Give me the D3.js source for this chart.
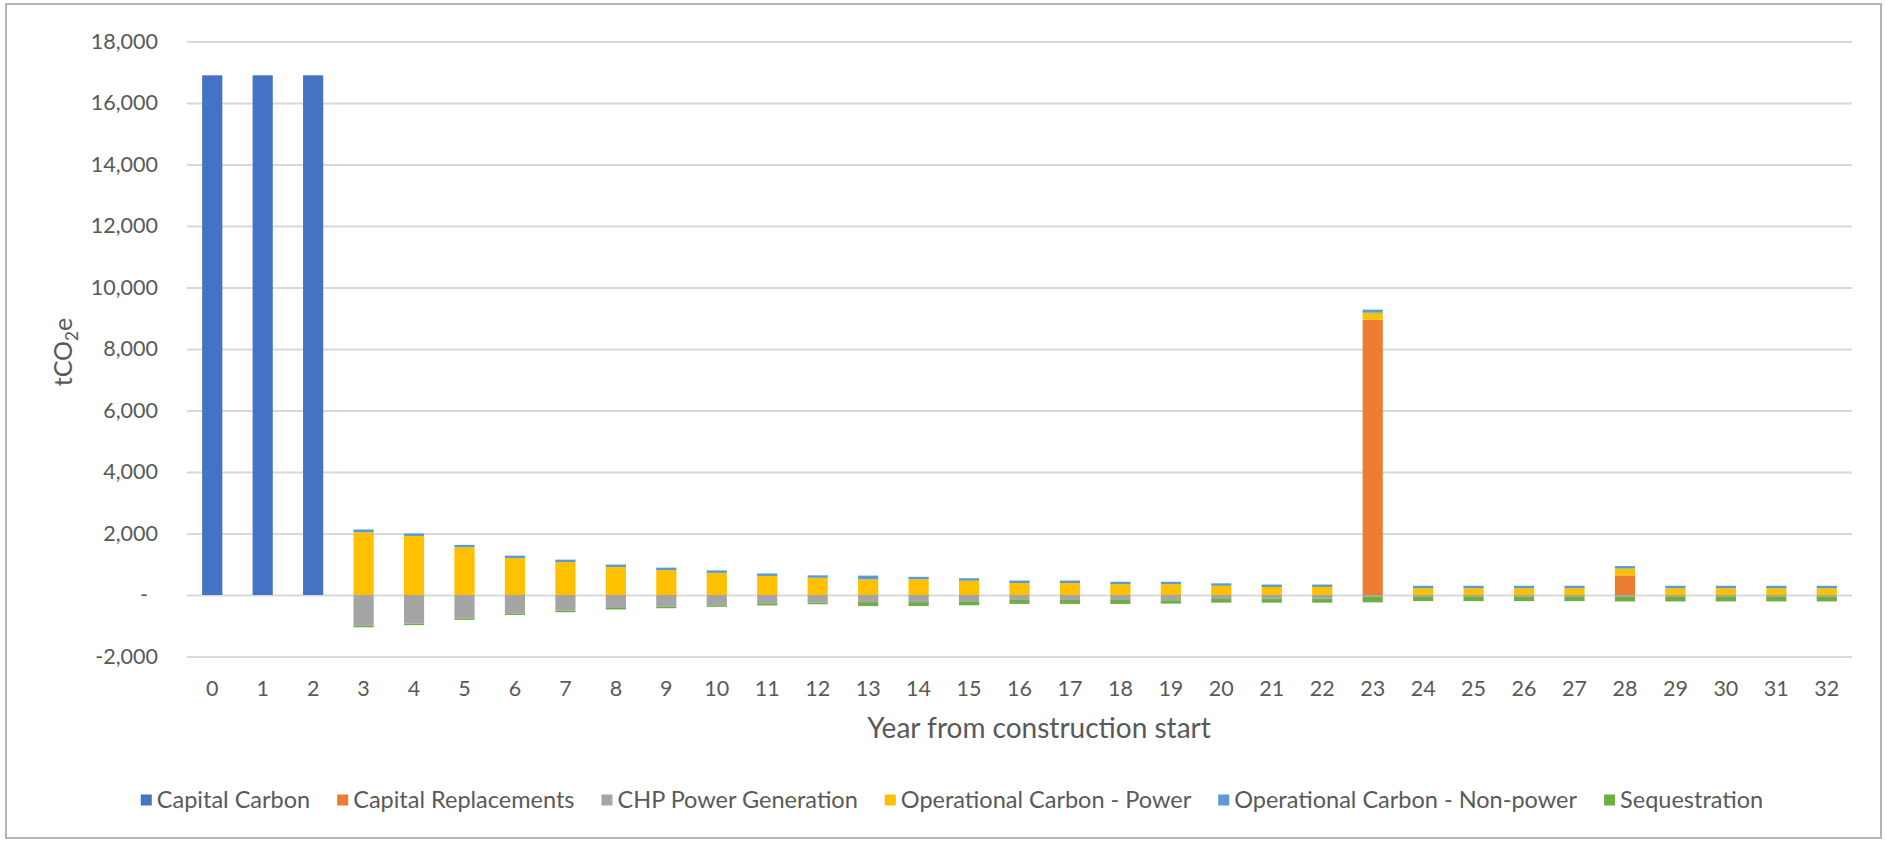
<!DOCTYPE html>
<html>
<head>
<meta charset="utf-8">
<script src="https://cdn.jsdelivr.net/npm/d3@7"></script>
<style>
  html, body { margin: 0; padding: 0; background: #ffffff; }
  svg { display: block; }
  text { font-family: Lato, "Open Sans", sans-serif; fill: #595959; }
</style>
</head>
<body>
<svg id="chart" width="1885" height="841"></svg>
<script>
// Years from construction start
const years = d3.range(0, 33);

// Series names and colours (stack order)
const seriesNames = [
  "Capital Carbon",
  "Capital Replacements",
  "CHP Power Generation",
  "Operational Carbon - Power",
  "Operational Carbon - Non-power",
  "Sequestration"
];
const seriesColors = ["#4472C4", "#ED7D31", "#A5A5A5", "#FFC000", "#5B9BD5", "#70AD47"];

// Annual emissions per series, tCO2e (years 0..32)
const capitalCarbon = [16900, 16900, 16900, 0, 0, 0, 0, 0, 0, 0, 0, 0, 0, 0, 0, 0, 0, 0, 0, 0, 0, 0, 0, 0, 0, 0, 0, 0, 0, 0, 0, 0, 0];
const capitalReplacements = [0, 0, 0, 0, 0, 0, 0, 0, 0, 0, 0, 0, 0, 0, 0, 0, 0, 0, 0, 0, 0, 0, 0, 8950, 0, 0, 0, 0, 640, 0, 0, 0, 0];
const chpPowerGeneration = [0, 0, 0, -1000, -930, -760, -600, -510, -420, -380, -335, -290, -250, -230, -230, -205, -160, -160, -160, -170, -130, -120, -120, -50, -50, -50, -50, -50, -50, -50, -50, -50, -50];
const operationalPower = [0, 0, 0, 2040, 1920, 1550, 1200, 1070, 910, 810, 720, 620, 560, 510, 510, 465, 390, 390, 350, 350, 300, 260, 260, 230, 220, 220, 220, 220, 220, 220, 220, 220, 220];
const operationalNonPower = [0, 0, 0, 90, 80, 80, 80, 80, 80, 80, 80, 80, 80, 120, 80, 80, 80, 80, 80, 80, 80, 80, 80, 100, 80, 80, 80, 80, 80, 80, 80, 80, 80];
const sequestration = [0, 0, 0, -50, -50, -50, -50, -50, -50, -50, -50, -50, -50, -130, -130, -130, -130, -130, -130, -110, -120, -130, -130, -190, -150, -150, -150, -150, -160, -160, -160, -160, -160];

// Value axis ticks
const yTicks = [-2000, 0, 2000, 4000, 6000, 8000, 10000, 12000, 14000, 16000, 18000];

const axisTitleX = "Year from construction start";

// Rows for the stack layout
const seriesValues = [capitalCarbon, capitalReplacements, chpPowerGeneration, operationalPower, operationalNonPower, sequestration];
const rows = years.map((y, i) => {
  const r = { year: y };
  seriesNames.forEach((n, k) => { r[n] = seriesValues[k][i]; });
  return r;
});

const svg = d3.select("#chart");

// Outer frame
svg.append("rect")
  .attr("x", 6).attr("y", 4)
  .attr("width", 1875).attr("height", 834)
  .attr("fill", "#ffffff")
  .attr("stroke", "#b4b4b4")
  .attr("stroke-width", 2);

const plot = { left: 187, right: 1852, top: 41.5, bottom: 656.5 };

const x = d3.scaleBand()
  .domain(years)
  .range([plot.left, plot.right])
  .paddingInner(0.6)
  .paddingOuter(0.3);

const y = d3.scaleLinear()
  .domain([-2000, 18000])
  .range([plot.bottom, plot.top]);

// Accounting-style number format: zero shown as a dash, plain hyphen for negatives
const fmt = d => d === 0 ? "-" : d3.format(",")(d).replace("\u2212", "-");

// Gridlines and value labels
const yAxis = d3.axisLeft(y)
  .tickValues(yTicks)
  .tickSize(-(plot.right - plot.left))
  .tickPadding(30)
  .tickFormat(fmt);

const gy = svg.append("g")
  .attr("transform", `translate(${plot.left},0)`)
  .call(yAxis);
gy.select(".domain").remove();
gy.selectAll(".tick line")
  .attr("stroke", "#d9d9d9")
  .attr("stroke-width", 2);
gy.selectAll(".tick text")
  .attr("fill", "#595959")
  .style("font-size", "21.5px")
  .attr("x", d => d === 0 ? -39 : -29);

// Stacked bars (positives above zero, negatives below)
const stack = d3.stack()
  .keys(seriesNames)
  .offset(d3.stackOffsetDiverging);
const stacked = stack(rows);

svg.append("g")
  .selectAll("g")
  .data(stacked)
  .join("g")
  .attr("fill", (d, i) => seriesColors[i])
  .selectAll("rect")
  .data(d => d.filter(p => p[1] !== p[0]))
  .join("rect")
  .attr("x", d => x(d.data.year))
  .attr("width", x.bandwidth())
  .attr("y", d => y(Math.max(d[0], d[1])))
  .attr("height", d => Math.abs(y(d[0]) - y(d[1])));

// Category axis labels
const xAxis = d3.axisBottom(x).tickSize(0).tickPadding(0);
const gx = svg.append("g")
  .attr("transform", `translate(0,${plot.bottom})`)
  .call(xAxis);
gx.select(".domain").remove();
gx.selectAll(".tick text")
  .attr("fill", "#595959")
  .attr("dy", null)
  .attr("y", 39)
  .style("font-size", "21.5px");

// Axis titles
svg.append("text")
  .attr("x", 1039)
  .attr("y", 738)
  .attr("text-anchor", "middle")
  .style("font-size", "28px")
  .text(axisTitleX);

const yTitle = svg.append("text")
  .attr("transform", "translate(72,352) rotate(-90)")
  .attr("text-anchor", "middle")
  .style("font-size", "25px");
yTitle.append("tspan").text("tCO");
yTitle.append("tspan").attr("dy", 6).style("font-size", "17px").text("2");
yTitle.append("tspan").attr("dy", -6).text("e");

// Legend
const legend = svg.append("g");
const sw = 11, swGap = 5, itemGap = 27;
const items = legend.selectAll("g")
  .data(seriesNames)
  .join("g");
items.append("rect")
  .attr("width", sw).attr("height", sw)
  .attr("y", -sw / 2)
  .attr("fill", (d, i) => seriesColors[i]);
items.append("text")
  .attr("x", sw + swGap)
  .attr("dy", "0.35em")
  .style("font-size", "23.5px")
  .text(d => d);
const widths = [];
items.each(function () {
  widths.push(sw + swGap + d3.select(this).select("text").node().getComputedTextLength());
});
const total = d3.sum(widths) + itemGap * (widths.length - 1);
const startX = 952 - total / 2;
let cx = 0;
items.attr("transform", (d, i) => {
  const t = `translate(${startX + cx},800)`;
  cx += widths[i] + itemGap;
  return t;
});
</script>
</body>
</html>
